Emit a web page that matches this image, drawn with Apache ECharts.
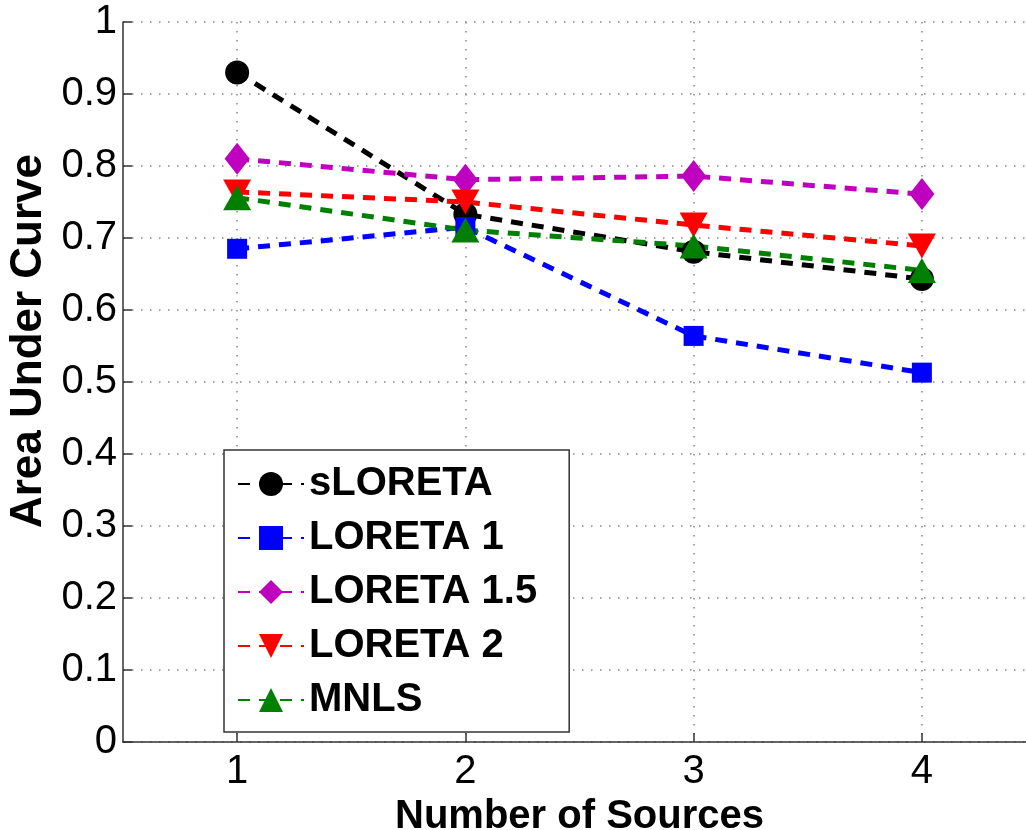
<!doctype html>
<html>
<head>
    <meta charset="utf-8">
    <title>Area Under Curve</title>
    <style>
        html, body {
            margin: 0;
            padding: 0;
            background: #fff;
        }
        #container {
            width: 1026px;
            height: 830px;
        }
    </style>
</head>
<body>
<div id="container"></div>
<script type="text/javascript" src="https://cdn.jsdelivr.net/npm/echarts@6/dist/echarts.min.js"></script>
<script type="text/javascript">
    // values
    var sources = [1, 2, 3, 4];
    var seriesNames = ['sLORETA', 'LORETA 1', 'LORETA 1.5', 'LORETA 2', 'MNLS'];
    var sLORETA = [0.930, 0.733, 0.681, 0.643];
    var loreta1 = [0.685, 0.715, 0.564, 0.513];
    var loreta15 = [0.810, 0.781, 0.786, 0.761];
    var loreta2 = [0.764, 0.750, 0.718, 0.689];
    var mnls = [0.756, 0.711, 0.689, 0.655];

    var font = "'Liberation Sans', Arial, Helvetica, sans-serif";

    function pairs(vals) {
        return sources.map(function (s, i) { return [s, vals[i]]; });
    }

    function makeSeries(name, vals, color, symbol, size) {
        return {
            name: name,
            type: 'line',
            data: pairs(vals),
            symbol: symbol,
            symbolSize: size,
            showSymbol: true,
            animation: false,
            lineStyle: {color: color, width: 5, type: [12, 9], cap: 'butt'},
            itemStyle: {color: color, opacity: 1}
        };
    }

    var myChart = echarts.init(document.getElementById('container'));
    var option = {
        backgroundColor: '#fff',
        animation: false,
        // plot box runs from x=0.5 to 4.5; right edge falls just past the canvas
        grid: {left: 123, top: 22, bottom: 88, right: -10, outerBoundsMode: 'none', containLabel: false},
        legend: {
            orient: 'vertical',
            left: 224,
            top: 450,
            padding: [14, 32, 12, 13],
            itemGap: 14,
            itemWidth: 66,
            itemHeight: 30,
            backgroundColor: '#fff',
            borderColor: '#333',
            borderWidth: 1.5,
            borderRadius: 0,
            data: seriesNames,
            textStyle: {fontSize: 40, fontWeight: 'bold', color: '#000', fontFamily: font}
        },
        xAxis: {
            type: 'value',
            min: 0.5,
            max: 4.5,
            name: 'Number of Sources',
            nameLocation: 'middle',
            nameGap: 44,
            nameTextStyle: {fontSize: 40, fontWeight: 'bold', color: '#000', fontFamily: font},
            axisLine: {lineStyle: {color: '#333', width: 1.5}},
            axisTick: {inside: true, length: 9, customValues: sources, lineStyle: {color: '#333', width: 1.5}},
            axisLabel: {customValues: sources, fontSize: 40, color: '#000', fontFamily: font, margin: 10},
            splitLine: {show: true, lineStyle: {color: '#888', width: 1.5, type: [1.5, 7.5]}}
        },
        yAxis: {
            type: 'value',
            min: 0,
            max: 1,
            interval: 0.1,
            name: 'Area Under Curve',
            nameLocation: 'middle',
            nameGap: 72,
            nameTextStyle: {fontSize: 44, fontWeight: 'bold', color: '#000', fontFamily: font, padding: [0, 0, 0, 82]},
            axisLine: {show: true, lineStyle: {color: '#333', width: 1.5}},
            axisTick: {show: true, inside: true, length: 9, lineStyle: {color: '#333', width: 1.5}},
            axisLabel: {fontSize: 40, color: '#000', fontFamily: font, margin: 6},
            splitLine: {show: true, lineStyle: {color: '#888', width: 1.5, type: [1.5, 7.5]}}
        },
        series: [
            makeSeries('sLORETA', sLORETA, '#000000', 'circle', 24),
            makeSeries('LORETA 1', loreta1, '#0000ff', 'rect', 20),
            makeSeries('LORETA 1.5', loreta15, '#bf00bf', 'diamond', [25, 32]),
            makeSeries('LORETA 2', loreta2, '#ff0000', 'path://M0,0L28,0L14,25Z', [28, 25]),
            makeSeries('MNLS', mnls, '#007f00', 'triangle', [28, 25])
        ]
    };
    myChart.setOption(option);
</script>
</body>
</html>
